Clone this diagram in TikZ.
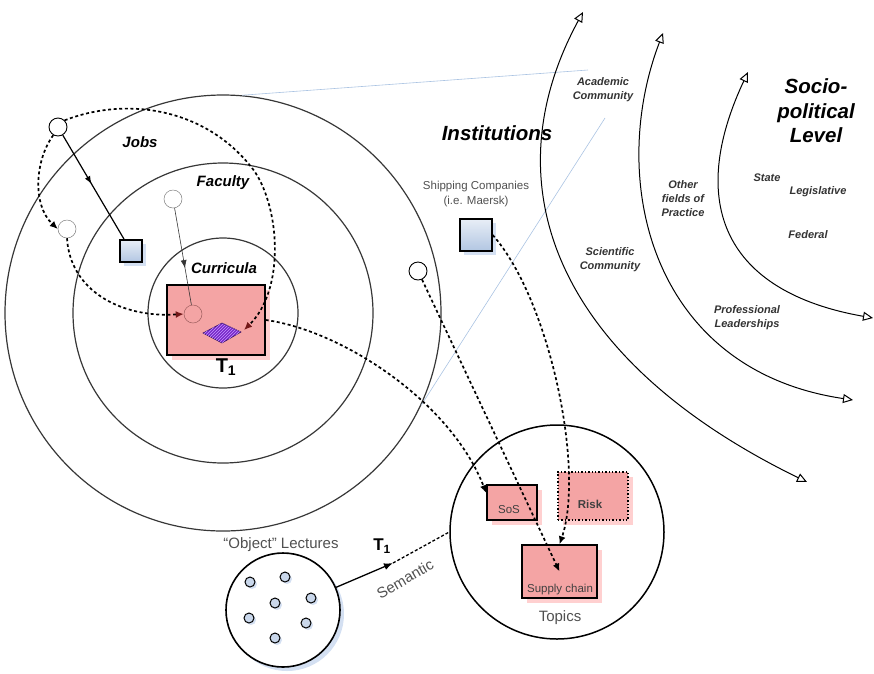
\documentclass[tikz,border=0pt]{standalone}
\usepackage{fontspec}
\setmainfont{Liberation Sans}
\usepackage{tikz}
\usetikzlibrary{arrows.meta, positioning, shadows, patterns, decorations.markings}

\definecolor{ringgrey}{RGB}{55,55,55}
\definecolor{topicpink}{RGB}{244,164,164}
\definecolor{shadowpink}{RGB}{255,208,208}
\definecolor{squareblue}{RGB}{178,198,226}
\definecolor{shadowblue}{RGB}{212,224,242}
\definecolor{conelink}{RGB}{170,195,226}
\definecolor{labelgrey}{RGB}{80,80,80}
\definecolor{gridpurple}{RGB}{120,40,200}
\definecolor{gridstripe}{RGB}{196,150,255}
\definecolor{tipred}{RGB}{115,25,25}

\begin{document}
\begin{tikzpicture}[x=1pt, y=-1pt,
	ring/.style={circle, draw=ringgrey, line width=1.2pt, inner sep=0pt},
	hole/.style={circle, draw, line width=.9pt, minimum size=18pt, inner sep=0pt},
	ghost/.style={circle, draw=gray, line width=.5pt, minimum size=18pt, inner sep=0pt},
	topicbox/.style={draw, line width=1.4pt, fill=topicpink, inner sep=0pt,
		drop shadow={shadow xshift=5pt, shadow yshift=-5pt, fill=shadowpink, opacity=1}},
	square/.style={draw, line width=1.4pt, top color=squareblue!30, bottom color=squareblue, inner sep=0pt,
		drop shadow={shadow xshift=4pt, shadow yshift=-4pt, fill=shadowblue, opacity=1}},
	dot/.style={circle, draw, line width=1pt, fill=squareblue!70, minimum size=10pt, inner sep=0pt,
		drop shadow={shadow xshift=2pt, shadow yshift=-2pt, fill=shadowblue, opacity=1}},
	flow/.style={line width=1.7pt, dash pattern=on 3pt off 2.6pt, -{Latex[length=8pt, width=7pt]}},
	redflow/.style={flow, -{Latex[length=8pt, width=7pt, color=tipred]}},
	level/.style={line width=1pt, {Triangle[open, length=10pt, width=9pt]}-{Triangle[open, length=10pt, width=9pt]}},
	midarrow/.style={postaction={decorate}, decoration={markings,
		mark=at position #1 with {\arrow{Latex[length=8pt, width=6pt]}}}},
	ringtext/.style={font=\fontsize{15}{18}\selectfont\bfseries\itshape},
	fieldtext/.style={font=\fontsize{11}{14}\selectfont\bfseries\itshape, text=black!80, align=center},
	headtext/.style={font=\fontsize{20.5}{24.5}\selectfont\bfseries\itshape, align=center},
	plaintext/.style={font=\fontsize{15}{18}\selectfont, text=labelgrey},
	boxtext/.style={font=\fontsize{11.5}{14}\selectfont, text=black!75},
	smalltext/.style={font=\fontsize{11.5}{15}\selectfont, text=labelgrey, align=center}]

	\useasboundingbox (0,0) rectangle (874,673);

	% Rings
	\node[ring, minimum size=436pt] (jobs) at (223,313) {};
	\node[ring, minimum size=300pt] (faculty) at (223,313) {};
	\node[ring, minimum size=150pt] (curricula) at (223,313) {};
	\node[ringtext] (jobslbl) at (140,142) {Jobs};
	\node[ringtext] (facultylbl) at (223,183) {Faculty};
	\node[ringtext] (curriculalbl) at (224,268) {Curricula};

	% Links to the institutions
	\draw[conelink, line width=.6pt] (jobs.85) -- (588,70);
	\draw[conelink, line width=.6pt] (jobs.-25) -- (605,118);

	% Topic T1
	\node[topicbox, minimum width=98pt, minimum height=70pt] (tbox) at (216,320) {};
	\node[font=\fontsize{20}{24}\selectfont\bfseries] (tlbl) at (226,367) {T\textsubscript{1}};
	\node[ghost, draw=tipred!70] (target) at (193,314) {};
	\filldraw[draw=gridpurple!50!black, fill=gridpurple, line width=.6pt] (203,333) -- (222,323) -- (241,332) -- (222,343) -- cycle;
	\path[pattern=north east lines, pattern color=gridstripe] (203,333) -- (222,323) -- (241,332) -- (222,343) -- cycle;
	\coordinate (grid) at (244,330);

	% Persons and squares
	\node[square, minimum size=22pt] (jobsq) at (131,251) {};
	\node[hole] (seeker) at (58,127) {};
	\node[ghost] (applicant) at (67,229) {};
	\node[ghost] (lecturer) at (173,199) {};
	\node[hole] (graduate) at (418,271) {};
	\node[square, minimum size=32pt] (ship) at (476,235) {};
	\node[smalltext] (shiplbl) at (476,194) {Shipping Companies\\(i.e. Maersk)};

	% Levels
	\draw[level] (583,12) .. controls (490,183) and (553,358) .. (807,482);
	\draw[level] (663,33) .. controls (607,179) and (650,370) .. (853,400);
	\draw[level] (748,72) .. controls (686,204) and (725,292) .. (873,318);
	\node[headtext] (instlbl) at (497,133) {Institutions};
	\node[headtext] (sociolbl) at (816,111) {Socio-\\political\\Level};
	\node[fieldtext] (academic) at (603,90) {Academic\\Community};
	\node[fieldtext] (scientific) at (610,260) {Scientific\\Community};
	\node[fieldtext] (practice) at (683,199) {Other\\fields of\\Practice};
	\node[fieldtext] (leaders) at (747,318) {Professional\\Leaderships};
	\node[fieldtext] (state) at (767,178) {State};
	\node[fieldtext] (legislative) at (818,192) {Legislative};
	\node[fieldtext] (federal) at (808,235) {Federal};

	% Topics
	\node[circle, draw, line width=1.5pt, minimum size=214pt] (topics) at (557,532) {};
	\node[topicbox, minimum width=50pt, minimum height=35pt] (sos) at (512,502.5) {};
	\node[topicbox, dotted, minimum width=70pt, minimum height=48pt] (risk) at (593,496) {};
	\node[topicbox, minimum width=75pt, minimum height=53pt] (supply) at (559.5,571.5) {};
	\node[boxtext] (sostxt) at (509,510) {SoS};
	\node[boxtext, font=\fontsize{11.5}{14}\selectfont\bfseries] (risktxt) at (590,504) {Risk};
	\node[boxtext] (supplytxt) at (560,590) {Supply chain};
	\node[plaintext] (topicslbl) at (560,618) {Topics};

	% Object lectures
	\node[circle, draw, line width=1.6pt, minimum size=114pt, fill=white,
		drop shadow={shadow xshift=4pt, shadow yshift=-4pt, fill=shadowblue, opacity=1}] (lectures) at (283,610) {};
	\foreach \x/\y [count=\i] in {250/582, 285/577, 275/603, 311/598, 249/618, 306/623, 275/638}
		\node[dot] (obj\i) at (\x,\y) {};
	\node[plaintext] (lectureslbl) at (281,545) {“Object” Lectures};
	\coordinate (sem) at (393,563);
	\draw[line width=1.3pt, -{Latex[length=9pt, width=7pt]}] (lectures) -- (sem);
	\draw[line width=1.3pt, dash pattern=on 3pt off 2pt] (sem) -- (topics.west);
	\node[font=\fontsize{17}{20}\selectfont\bfseries] (semt) at (382,546) {T\textsubscript{1}};
	\node[plaintext, rotate=30] (semlbl) at (405,579) {Semantic};

	% Flows
	\draw[line width=1.2pt, midarrow=.47] (seeker) -- (jobsq);
	\draw[line width=.6pt, draw=black!80, midarrow=.62] (lecturer) -- (target);
	\draw[flow] (seeker.240) .. controls (35,160) and (32,205) .. (applicant.west);
	\draw[redflow] (applicant.south) .. controls (70,290) and (120,318) .. (target.west);
	\draw[redflow] (seeker.north east) .. controls (130,95) and (210,110) .. (255,172) .. controls (280,210) and (285,290) .. (grid);
	\draw[flow] (tbox.east) .. controls (340,330) and (450,400) .. (sos.160);
	\draw[flow] (graduate) -- (supply.center);
	\draw[flow] (ship.east) .. controls (550,300) and (585,470) .. (supply.north);
\end{tikzpicture}
\end{document}
